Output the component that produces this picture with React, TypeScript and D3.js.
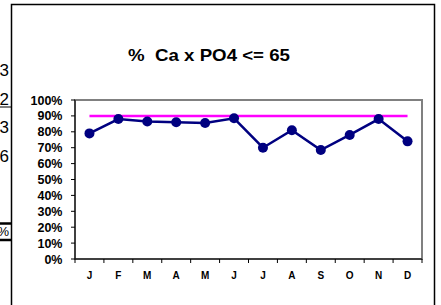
import React from "react";
import * as d3 from "d3";

const months = ["J", "F", "M", "A", "M", "J", "J", "A", "S", "O", "N", "D"];
const pctValues = [0.79, 0.88, 0.865, 0.86, 0.855, 0.885, 0.7, 0.81, 0.685, 0.78, 0.88, 0.74];
const targetValue = 0.9;
const yTicks = [0, 0.1, 0.2, 0.3, 0.4, 0.5, 0.6, 0.7, 0.8, 0.9, 1];
const leftDigits = ["3", "2", "3", "6"];

const W = 441;
const H = 305;
const plot = { left: 75, right: 422, top: 100, bottom: 259 };

export default function App() {
  // month positions are bands, points sit in the middle
  const x = d3
    .scaleBand<number>()
    .domain(months.map((_, i) => i))
    .range([plot.left, plot.right]);

  const y = d3.scaleLinear().domain([0, 1]).range([plot.bottom, plot.top]);

  const line = d3
    .line<number>()
    .x((_, i) => x(i)! + x.bandwidth() / 2)
    .y((d) => y(d));

  const cx = (i: number) => x(i)! + x.bandwidth() / 2;
  const fmt = d3.format(".0%");
  const font = "Arial, 'Liberation Sans', sans-serif";

  return (
    <svg
      width={W}
      height={H}
      style={{ position: "absolute", left: 0, top: 0, background: "#fff" }}
    >
      {/* bits of the spreadsheet peeking out on the left */}
      {leftDigits.map((d, i) => (
        <text
          key={i}
          x={9}
          y={76 + i * 28.5}
          textAnchor="end"
          fontFamily={font}
          fontSize={17}
        >
          {d}
        </text>
      ))}
      <line x1={0} x2={11} y1={107} y2={107} stroke="#000" strokeWidth={1} />
      <line x1={0} x2={11} y1={223.5} y2={223.5} stroke="#000" strokeWidth={2.5} />
      <line x1={0} x2={11} y1={240} y2={240} stroke="#000" strokeWidth={2.5} />
      <text x={9} y={236} textAnchor="end" fontFamily={font} fontSize={13}>
        %
      </text>

      {/* chart frame */}
      <rect x={11.5} y={4.5} width={423} height={H} fill="#fff" stroke="#000" strokeWidth={1.5} />

      <text
        x={209}
        y={60.5}
        textAnchor="middle"
        fontFamily={font}
        fontWeight="bold"
        fontSize={16.5}
        textLength={162}
        lengthAdjust="spacingAndGlyphs"
        style={{ whiteSpace: "pre" }}
      >
        {"%  Ca x PO4 <= 65"}
      </text>

      {/* plot area border */}
      <rect
        x={plot.left}
        y={plot.top}
        width={plot.right - plot.left}
        height={plot.bottom - plot.top}
        fill="none"
        stroke="#808080"
        strokeWidth={2}
      />
      <line x1={plot.left} x2={plot.left} y1={plot.top} y2={plot.bottom} stroke="#000" strokeWidth={1} />
      <line x1={plot.left} x2={plot.right} y1={plot.bottom} y2={plot.bottom} stroke="#000" strokeWidth={1} />

      {yTicks.map((t) => (
        <g key={t}>
          <line x1={plot.left - 4} x2={plot.left} y1={y(t)} y2={y(t)} stroke="#000" />
          <text
            x={plot.left - 12.5}
            y={y(t)}
            dy="0.36em"
            textAnchor="end"
            fontFamily={font}
            fontWeight="bold"
            fontSize={12.5}
          >
            {fmt(t)}
          </text>
        </g>
      ))}

      {months.map((m, i) => (
        <g key={i}>
          <line x1={x(i)!} x2={x(i)!} y1={plot.bottom} y2={plot.bottom + 4} stroke="#000" />
          <text
            x={cx(i)}
            y={279}
            textAnchor="middle"
            fontFamily={font}
            fontWeight="bold"
            fontSize={10}
          >
            {m}
          </text>
        </g>
      ))}
      <line x1={plot.right} x2={plot.right} y1={plot.bottom} y2={plot.bottom + 4} stroke="#000" />

      {/* target */}
      <line
        x1={cx(0)}
        x2={cx(months.length - 1)}
        y1={y(targetValue)}
        y2={y(targetValue)}
        stroke="#ff00ff"
        strokeWidth={2.5}
      />

      <path d={line(pctValues)!} fill="none" stroke="#000080" strokeWidth={2.5} />
      {pctValues.map((v, i) => (
        <circle key={i} cx={cx(i)} cy={y(v)} r={5} fill="#000080" />
      ))}
    </svg>
  );
}
